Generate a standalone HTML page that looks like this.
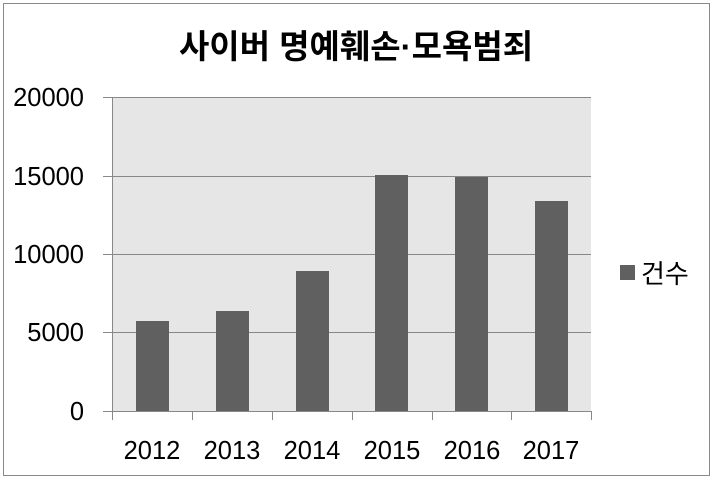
<!DOCTYPE html><html><head><meta charset="utf-8"><style>body{margin:0;background:#fff}</style></head><body>
<svg width="713" height="480" xmlns="http://www.w3.org/2000/svg" font-family="'Liberation Sans','Noto Sans CJK KR',sans-serif">
<rect x="3.5" y="3.5" width="706" height="472" fill="#fff" stroke="#888"/>
<text x="356" y="58" font-size="33" text-anchor="middle" font-weight="bold" fill="#000">사이버 명예훼손·모욕범죄</text>
<rect x="113" y="97" width="478" height="314" fill="#e6e6e6"/>
<g stroke="#888" stroke-width="1">
<line x1="103" y1="97.5" x2="591" y2="97.5"/>
<line x1="103" y1="176.5" x2="591" y2="176.5"/>
<line x1="103" y1="254.5" x2="591" y2="254.5"/>
<line x1="103" y1="332.5" x2="591" y2="332.5"/>
<line x1="103" y1="411.5" x2="591" y2="411.5"/>
<line x1="112.5" y1="97" x2="112.5" y2="411"/>
<line x1="112.5" y1="411" x2="112.5" y2="420"/><line x1="192.5" y1="411" x2="192.5" y2="420"/><line x1="272.5" y1="411" x2="272.5" y2="420"/><line x1="352.5" y1="411" x2="352.5" y2="420"/><line x1="432.5" y1="411" x2="432.5" y2="420"/><line x1="511.5" y1="411" x2="511.5" y2="420"/><line x1="591.5" y1="411" x2="591.5" y2="420"/>
</g>
<g fill="#606060">
<rect x="136" y="321" width="33" height="90"/>
<rect x="216" y="311" width="33" height="100"/>
<rect x="296" y="271" width="33" height="140"/>
<rect x="375" y="175" width="33" height="236"/>
<rect x="455" y="177" width="33" height="234"/>
<rect x="535" y="201" width="33" height="210"/>
</g>
<g font-size="25.5" fill="#000" text-anchor="end">
<text x="84" y="106">20000</text><text x="84" y="185">15000</text><text x="84" y="263">10000</text><text x="84" y="341">5000</text><text x="84" y="420">0</text>
</g>
<g font-size="25.5" fill="#000" text-anchor="middle">
<text x="152" y="459">2012</text><text x="232" y="459">2013</text><text x="312" y="459">2014</text><text x="392" y="459">2015</text><text x="472" y="459">2016</text><text x="551" y="459">2017</text>
</g>
<rect x="620" y="265" width="15" height="15" fill="#606060"/>
<text x="641" y="283" font-size="26" fill="#000">건수</text>
</svg></body></html>
